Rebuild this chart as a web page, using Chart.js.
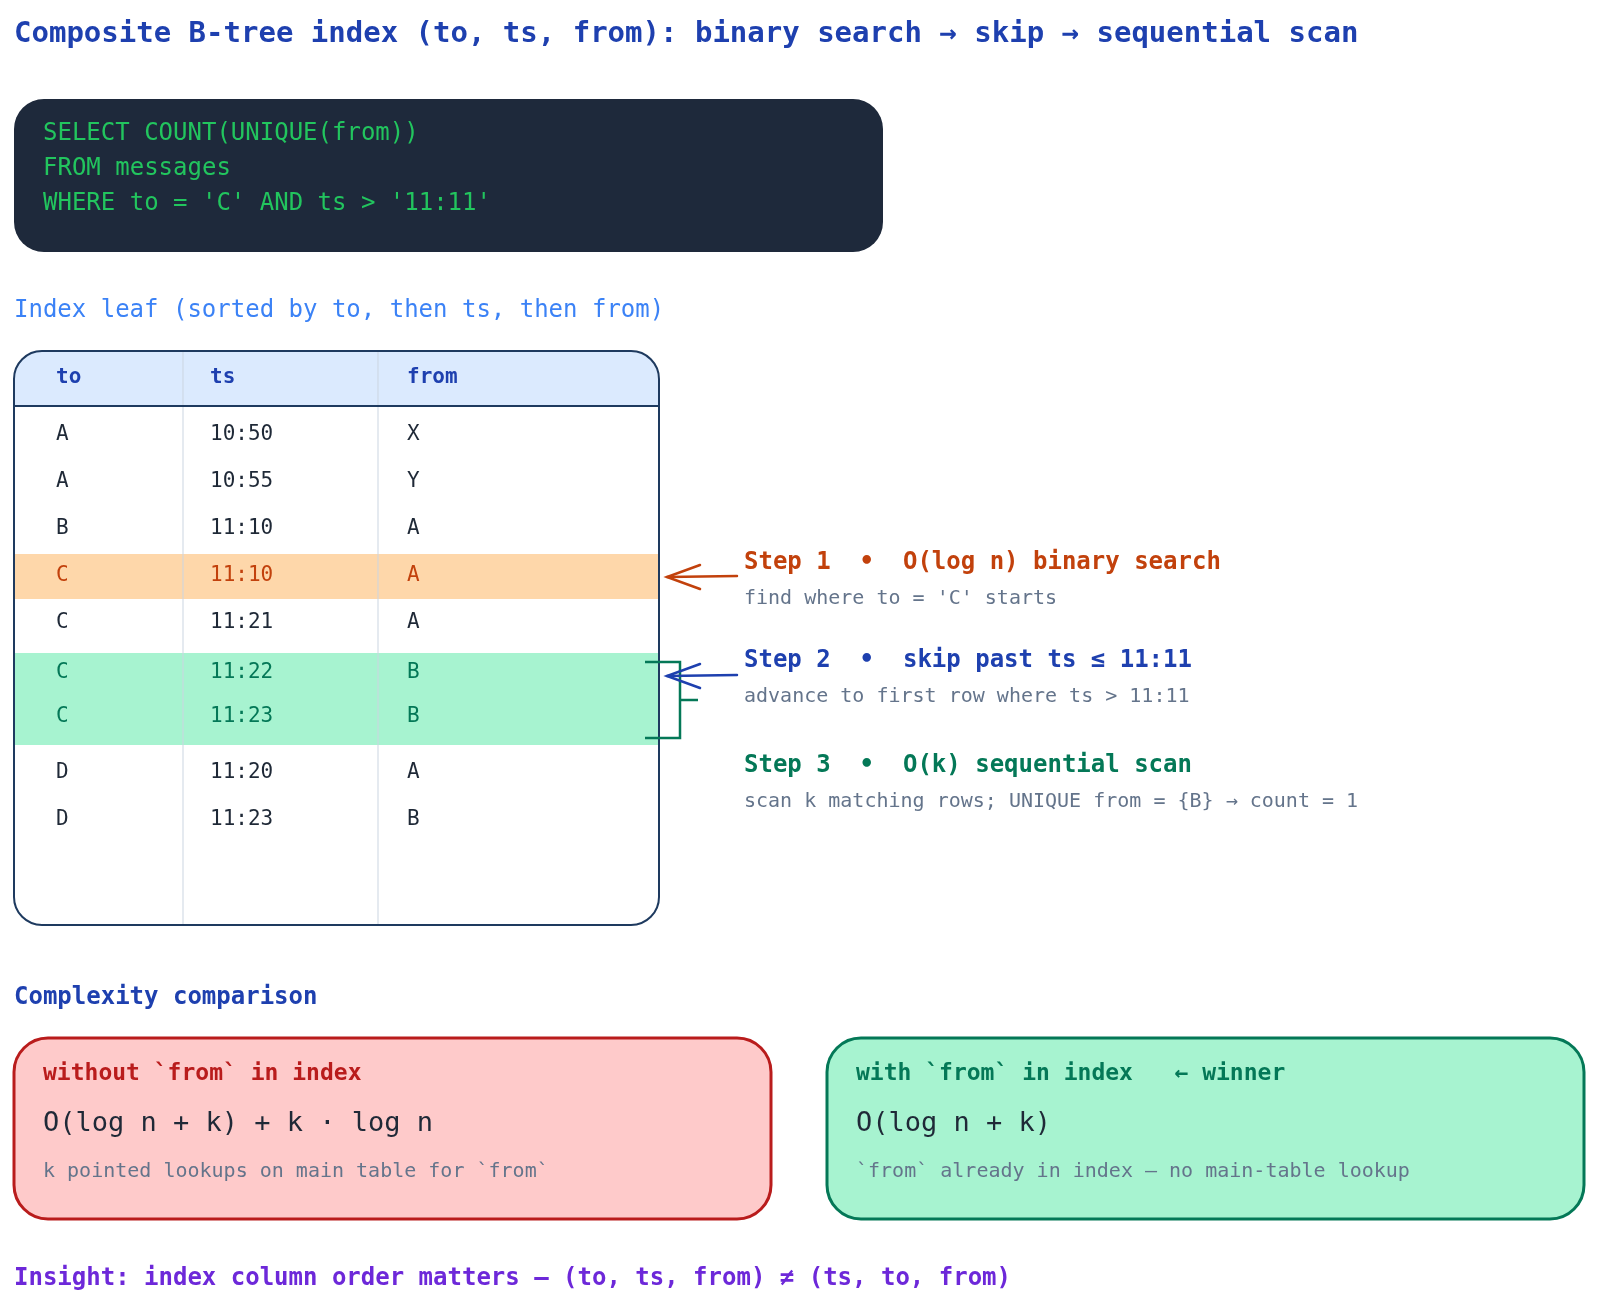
<!DOCTYPE html>
<html>
<head>
<meta charset="utf-8">
<script src="https://cdn.jsdelivr.net/npm/chart.js@4/dist/chart.umd.min.js"></script>
<style>
  html, body { margin: 0; padding: 0; background: #fff; }
  #wrap { width: 1600px; height: 1313px; }
</style>
</head>
<body>
<div id="wrap"><canvas id="c"></canvas></div>
<script>
const titleText = "Composite B-tree index (to, ts, from): binary search → skip → sequential scan";
const sqlLines = ["SELECT COUNT(UNIQUE(from))", "FROM messages", "WHERE to = 'C' AND ts > '11:11'"];
const columns = ["to", "ts", "from"];
const toCol = ["A", "A", "B", "C", "C", "C", "C", "D", "D"];
const tsCol = ["10:50", "10:55", "11:10", "11:10", "11:21", "11:22", "11:23", "11:20", "11:23"];
const fromCol = ["X", "Y", "A", "A", "A", "B", "B", "A", "B"];
const rowState = ["", "", "", "seek", "", "match", "match", "", ""];
const stepTitles = ["Step 1  •  O(log n) binary search", "Step 2  •  skip past ts ≤ 11:11", "Step 3  •  O(k) sequential scan"];
const stepNotes = ["find where to = 'C' starts", "advance to first row where ts > 11:11", "scan k matching rows; UNIQUE from = {B} → count = 1"];
const cmpTitles = ["without `from` in index", "with `from` in index   ← winner"];
const cmpFormulas = ["O(log n + k) + k · log n", "O(log n + k)"];
const cmpNotes = ["k pointed lookups on main table for `from`", "`from` already in index — no main-table lookup"];
const insight = "Insight: index column order matters — (to, ts, from) ≠ (ts, to, from)";

const MONO = '"DejaVu Sans Mono", "Liberation Mono", monospace';

function rowCenter(i) {
  let y = 435 + i * 47;
  if (i >= 5) y += 3;
  if (i === 6) y -= 3;
  if (i >= 7) y += 6;
  return y;
}

function rr(ctx, x, y, w, h, r) {
  ctx.beginPath();
  ctx.roundRect(x, y, w, h, r);
}

const diagram = {
  id: "diagram",
  afterDraw(chart) {
    const ctx = chart.ctx;
    const X = v => chart.scales.x.getPixelForValue(v);
    const Y = v => chart.scales.y.getPixelForValue(v);
    const text = (s, x, y, font, color, align) => {
      ctx.font = font; ctx.fillStyle = color;
      ctx.textAlign = align || "left"; ctx.textBaseline = "middle";
      ctx.fillText(s, X(x), Y(y));
    };
    ctx.save();
    text(titleText, 14, 34, "bold 29px " + MONO, "#1e40af");

    // SQL box
    rr(ctx, X(14), Y(99), X(883) - X(14), Y(252) - Y(99), 30);
    ctx.fillStyle = "#1e293b"; ctx.fill();
    sqlLines.forEach((l, i) => text(l, 43, 134 + i * 35, "24px " + MONO, "#22c55e"));

    text("Index leaf (sorted by to, then ts, then from)", 14, 311, "24px " + MONO, "#3b82f6");

    // table
    const tL = 14, tR = 659, tT = 351, tB = 925, hB = 406, c1 = 183, c2 = 378;
    ctx.save();
    rr(ctx, X(tL), Y(tT), X(tR) - X(tL), Y(tB) - Y(tT), 28);
    ctx.clip();
    ctx.fillStyle = "#dbeafe";
    ctx.fillRect(X(tL), Y(tT), X(tR) - X(tL), Y(hB) - Y(tT));
    toCol.forEach((_, i) => {
      if (rowState[i] === "seek") {
        ctx.fillStyle = "#fed7aa";
        ctx.fillRect(X(tL), Y(rowCenter(i) - 22), X(tR) - X(tL), 45);
      }
    });
    const m = rowState.map((s, i) => s === "match" ? i : -1).filter(i => i >= 0);
    if (m.length) {
      ctx.fillStyle = "#a7f3d0";
      const top = rowCenter(m[0]) - 20, bot = rowCenter(m[m.length - 1]) + 28;
      ctx.fillRect(X(tL), Y(top), X(tR) - X(tL), Y(bot) - Y(top));
    }
    ctx.strokeStyle = "#cbd5e1"; ctx.lineWidth = 1;
    [c1, c2].forEach(c => { ctx.beginPath(); ctx.moveTo(X(c), Y(tT)); ctx.lineTo(X(c), Y(tB)); ctx.stroke(); });
    ctx.restore();
    ctx.strokeStyle = "#1e3a5f"; ctx.lineWidth = 2;
    ctx.beginPath(); ctx.moveTo(X(tL), Y(hB)); ctx.lineTo(X(tR), Y(hB)); ctx.stroke();
    rr(ctx, X(tL), Y(tT), X(tR) - X(tL), Y(tB) - Y(tT), 28);
    ctx.stroke();

    const colX = [56, 210, 407];
    columns.forEach((c, j) => text(c, colX[j], 378, "bold 21px " + MONO, "#1e40af"));
    toCol.forEach((_, i) => {
      const col = rowState[i] === "seek" ? "#c2410c" : rowState[i] === "match" ? "#047857" : "#1f2937";
      [toCol[i], tsCol[i], fromCol[i]].forEach((v, j) => text(v, colX[j], rowCenter(i), "21px " + MONO, col));
    });

    // arrows
    const arrow = (y, color) => {
      ctx.strokeStyle = color; ctx.lineWidth = 2.5; ctx.lineCap = "round";
      ctx.beginPath(); ctx.moveTo(X(737), Y(y - 1)); ctx.lineTo(X(667), Y(y)); ctx.stroke();
      ctx.beginPath(); ctx.moveTo(X(700), Y(y - 12)); ctx.lineTo(X(667), Y(y)); ctx.lineTo(X(700), Y(y + 12)); ctx.stroke();
    };
    arrow(rowCenter(3) + 1, "#c2410c");
    // bracket
    ctx.strokeStyle = "#047857"; ctx.lineWidth = 2.5; ctx.lineCap = "butt";
    ctx.beginPath();
    ctx.moveTo(X(645), Y(662)); ctx.lineTo(X(680), Y(662)); ctx.lineTo(X(680), Y(738)); ctx.lineTo(X(645), Y(738));
    ctx.moveTo(X(680), Y(700)); ctx.lineTo(X(698), Y(700));
    ctx.stroke();
    arrow(676, "#1e40af");

    const stepColors = ["#c2410c", "#1e40af", "#047857"];
    const stepY = [563, 661, 766];
    stepTitles.forEach((s, i) => {
      text(s, 744, stepY[i], "bold 24px " + MONO, stepColors[i]);
      text(stepNotes[i], 744, stepY[i] + 36, "20px " + MONO, "#64748b");
    });

    text("Complexity comparison", 14, 998, "bold 24px " + MONO, "#1e40af");
    const boxes = [
      { l: 14, r: 771, fill: "#fecaca", stroke: "#b91c1c", head: "#b91c1c" },
      { l: 827, r: 1584, fill: "#a7f3d0", stroke: "#047857", head: "#047857" }
    ];
    boxes.forEach((b, i) => {
      rr(ctx, X(b.l), Y(1038), X(b.r) - X(b.l), Y(1219) - Y(1038), 34);
      ctx.fillStyle = b.fill; ctx.fill();
      ctx.strokeStyle = b.stroke; ctx.lineWidth = 3; ctx.stroke();
      text(cmpTitles[i], b.l + 29, 1074, "bold 23px " + MONO, b.head);
      text(cmpFormulas[i], b.l + 29, 1124, "27px " + MONO, "#1f2937");
      text(cmpNotes[i], b.l + 29, 1172, "20px " + MONO, "#64748b");
    });

    text(insight, 14, 1279, "bold 24px " + MONO, "#6d28d9");
    ctx.restore();
  }
};

new Chart(document.getElementById("c"), {
  type: "scatter",
  data: { datasets: [{ data: [], pointRadius: 0 }] },
  options: {
    responsive: true,
    maintainAspectRatio: false,
    animation: false,
    layout: { padding: 0 },
    plugins: { legend: { display: false }, tooltip: { enabled: false } },
    scales: {
      x: { type: "linear", min: 0, max: 1600, display: false },
      y: { type: "linear", min: 0, max: 1313, reverse: true, display: false }
    }
  },
  plugins: [diagram]
});
</script>
</body>
</html>
